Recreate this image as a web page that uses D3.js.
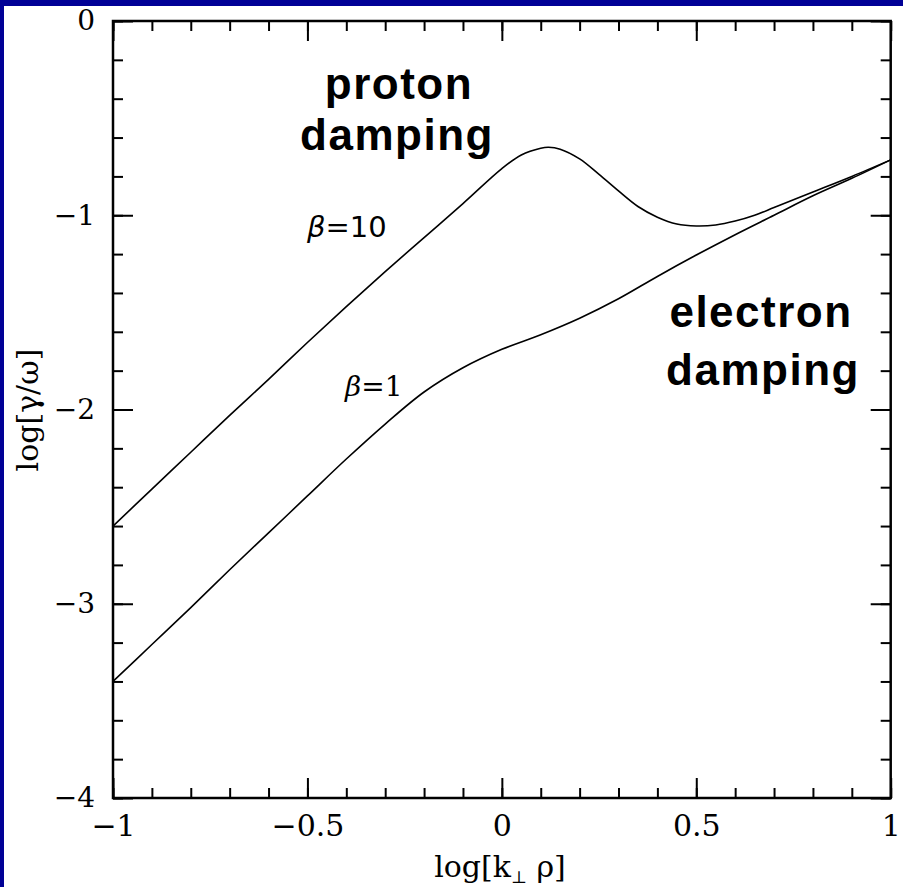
<!DOCTYPE html>
<html><head><meta charset="utf-8">
<script src="https://cdn.jsdelivr.net/npm/d3@7"></script>
<style>html,body{margin:0;padding:0;background:#000096;overflow:hidden}</style>
</head><body>
<script>
// ---- data ----
const xVals = [-1,-0.9,-0.8,-0.7,-0.6,-0.5,-0.4,-0.3,-0.2,-0.1,0,0.05,0.1,0.12,0.15,0.2,0.25,0.3,0.35,0.4,0.45,0.5,0.55,0.6,0.65,0.7,0.75,0.8,0.9,1.0];
const beta10 = [-2.6,-2.41,-2.22,-2.03,-1.845,-1.655,-1.47,-1.29,-1.115,-0.94,-0.76,-0.69,-0.655,-0.65,-0.66,-0.71,-0.79,-0.875,-0.955,-1.01,-1.045,-1.055,-1.05,-1.03,-1.0,-0.96,-0.92,-0.88,-0.8,-0.715];
const xVals1 = [-1,-0.9,-0.8,-0.7,-0.6,-0.5,-0.4,-0.3,-0.2,-0.1,0,0.1,0.2,0.3,0.4,0.5,0.6,0.7,0.8,0.9,1.0];
const beta1 = [-3.4,-3.21,-3.02,-2.825,-2.635,-2.445,-2.255,-2.075,-1.91,-1.785,-1.69,-1.615,-1.53,-1.43,-1.315,-1.205,-1.1,-1.0,-0.9,-0.81,-0.715];
const xMajor = [-1,-0.5,0,0.5,1];
const xMajorLabels = ["\u22121","\u22120.5","0","0.5","1"];
const xMinor = d3.range(-10,11).map(d=>d/10);
const yMajor = [-4,-3,-2,-1,0];
const yMajorLabels = ["\u22124","\u22123","\u22122","\u22121","0"];
const yMinor = d3.range(-20,1).map(d=>d/5);

const W=903,H=887;
const L=113,T=21,R=890.7,B=798;
const svg=d3.select("body").append("svg").attr("width",W).attr("height",H);
svg.append("rect").attr("x",0).attr("y",0).attr("width",W).attr("height",H).attr("fill","#000096");
svg.append("rect").attr("x",4).attr("y",6).attr("width",W-4).attr("height",H-6).attr("fill","#fff");

const x=d3.scaleLinear().domain([-1,1]).range([L,R]);
const y=d3.scaleLinear().domain([-4,0]).range([B,T]);

function axisStyle(g){g.select(".domain").remove();g.selectAll(".tick line").attr("stroke","#000").attr("stroke-width",2);}
// minor ticks
svg.append("g").attr("transform",`translate(0,${B})`).call(d3.axisBottom(x).tickValues(xMinor).tickSize(-10).tickFormat("")).call(axisStyle);
svg.append("g").attr("transform",`translate(0,${T})`).call(d3.axisTop(x).tickValues(xMinor).tickSize(-10).tickFormat("")).call(axisStyle);
svg.append("g").attr("transform",`translate(${L},0)`).call(d3.axisLeft(y).tickValues(yMinor).tickSize(-10).tickFormat("")).call(axisStyle);
svg.append("g").attr("transform",`translate(${R},0)`).call(d3.axisRight(y).tickValues(yMinor).tickSize(-10).tickFormat("")).call(axisStyle);
// major ticks
const xb=svg.append("g").attr("transform",`translate(0,${B})`).call(d3.axisBottom(x).tickValues(xMajor).tickSize(-20).tickPadding(17).tickFormat((d,i)=>xMajorLabels[i])).call(axisStyle);
svg.append("g").attr("transform",`translate(0,${T})`).call(d3.axisTop(x).tickValues(xMajor).tickSize(-20).tickFormat("")).call(axisStyle);
const yl=svg.append("g").attr("transform",`translate(${L},0)`).call(d3.axisLeft(y).tickValues(yMajor).tickSize(-20).tickPadding(18).tickFormat((d,i)=>yMajorLabels[i])).call(axisStyle);
svg.append("g").attr("transform",`translate(${R},0)`).call(d3.axisRight(y).tickValues(yMajor).tickSize(-20).tickFormat("")).call(axisStyle);
xb.selectAll("text").attr("font-family","DejaVu Serif").attr("font-size",30).attr("fill","#000");
yl.selectAll("text").attr("font-family","DejaVu Serif").attr("font-size",28).attr("fill","#000");

// frame
svg.append("rect").attr("x",L).attr("y",T).attr("width",R-L).attr("height",B-T).attr("fill","none").attr("stroke","#000").attr("stroke-width",2.5);

// curves
const line=d3.line().x(d=>x(d[0])).y(d=>y(d[1])).curve(d3.curveCatmullRom.alpha(0.5));
svg.append("path").datum(xVals.map((v,i)=>[v,beta10[i]])).attr("d",line).attr("fill","none").attr("stroke","#000").attr("stroke-width",1.6);
svg.append("path").datum(xVals1.map((v,i)=>[v,beta1[i]])).attr("d",line).attr("fill","none").attr("stroke","#000").attr("stroke-width",1.6);

// axis titles
svg.append("text").attr("x",500).attr("y",877).attr("text-anchor","middle").attr("font-family","DejaVu Serif").attr("font-size",30).attr("fill","#000")
  .html('log[k<tspan font-size="17" dy="6" fill="#000">\u22A5</tspan><tspan dy="-6" fill="#000">  \u03C1</tspan>]');
svg.append("text").attr("transform","translate(38,410) rotate(-90)").attr("text-anchor","middle").attr("font-family","DejaVu Serif").attr("font-size",30).attr("fill","#000")
  .text("log[\u03B3/\u03C9]");

// curve labels
svg.append("text").attr("x",307).attr("y",237).attr("font-family","DejaVu Sans").attr("font-size",29).attr("fill","#000")
  .html('<tspan font-style="italic">\u03B2</tspan>=10');
svg.append("text").attr("x",345).attr("y",396).attr("font-family","DejaVu Serif").attr("font-size",28).attr("fill","#000")
  .html('<tspan font-style="italic">\u03B2</tspan>=1');

// annotations
const ann=[["proton",399,99],["damping",397,150],["electron",761,327],["damping",763,385]];
svg.selectAll("text.ann").data(ann).enter().append("text").attr("class","ann")
  .attr("x",d=>d[1]).attr("y",d=>d[2]).attr("text-anchor","middle")
  .attr("font-family","Liberation Sans").attr("font-weight","bold").attr("font-size",44)
  .attr("letter-spacing","1.5px").attr("fill","#000").text(d=>d[0]);
</script>
</body></html>
